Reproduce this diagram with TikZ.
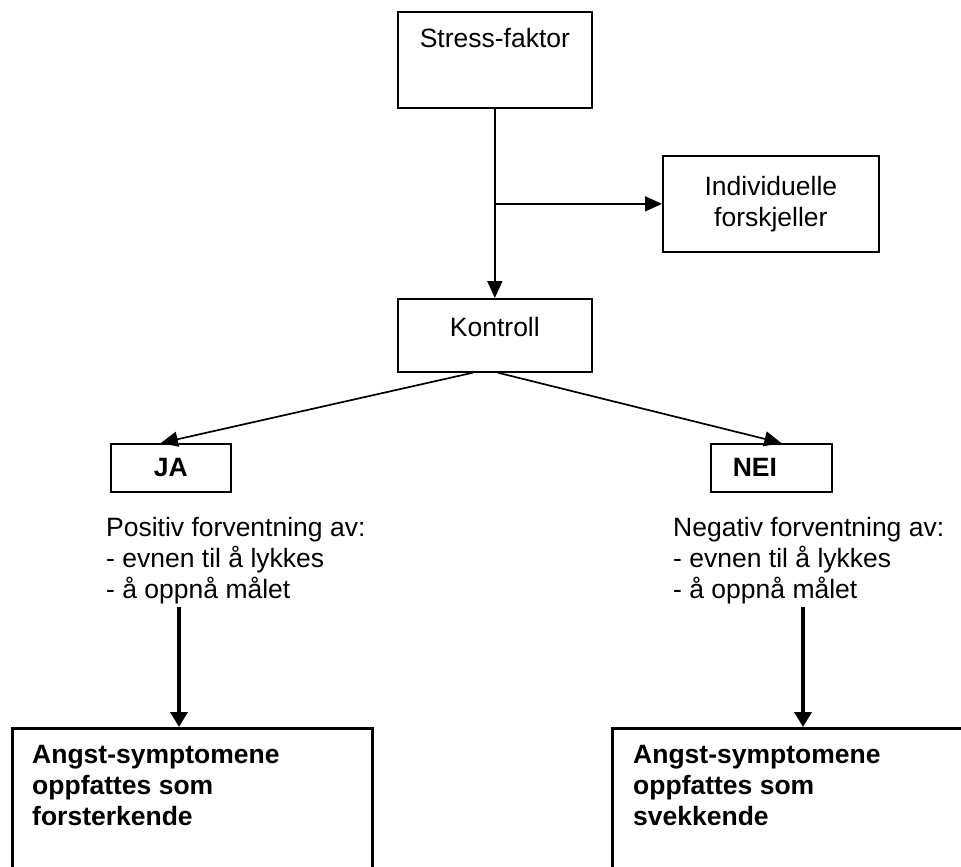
\documentclass[tikz,border=0pt]{standalone}
\usepackage{fontspec}
\setmainfont{Liberation Sans}
\usetikzlibrary{arrows.meta}
\usetikzlibrary{positioning}

\tikzset{
  box/.style={draw, line width=1.7pt, inner sep=0pt},
  bigbox/.style={draw, line width=3pt, inner sep=0pt},
  plain/.style={font=\fontsize{26.5}{31}\selectfont},
  bold/.style={font=\fontsize{26.5}{31}\selectfont\bfseries},
  arr/.style={line width=1.7pt, -{Triangle[length=17pt, width=15pt]}},
  thickarr/.style={line width=3.5pt, -{Triangle[length=15pt, width=17pt]}},
}

\begin{document}
\begin{tikzpicture}[line join=miter, x=1pt, y=-1pt, plain]
\useasboundingbox (0,0) rectangle (961,867);
\clip (0,0) rectangle (961,867);

% top part
\node [box, anchor=north west, minimum width=194pt, text height=36pt, text depth=60pt] (stress) at (397,11) {Stress-faktor};
\node [box, anchor=north west, minimum width=216pt, minimum height=96pt, align=center] (indiv) at (662,155) {Individuelle\\forskjeller};
\node [box, anchor=north west, minimum width=194pt, text height=38pt, text depth=35pt] (kontroll) at (397,298) {Kontroll};

\draw [arr] (stress.south) -- (kontroll.north);
\draw [arr] (stress.south |- indiv.west) -- (indiv.west);

% JA / NEI
\node [box, bold, anchor=north west, minimum width=120pt, minimum height=48pt] (ja) at (110,443) {JA};
\node [box, bold, anchor=north west, minimum height=48pt, inner xsep=22pt, text width=77pt, align=left] (nei) at (710,443) {NEI};

\draw [arr] ([xshift=-22pt]kontroll.south) -- ([xshift=-10pt]ja.north);
\draw [arr] ([xshift=3pt]kontroll.south) -- ([xshift=10pt]nei.north);

\node [anchor=north west, align=left, inner sep=0pt] (pos) at (106,517) {Positiv forventning av:\\- evnen til å lykkes\\- å oppnå målet};
\node [anchor=north west, align=left, inner sep=0pt] (neg) at (673,517) {Negativ forventning av:\\- evnen til å lykkes\\- å oppnå målet};

% bottom boxes, cut off by the page
\node [bigbox, anchor=north west, minimum width=360pt, minimum height=200pt] (forst) at (11,727) {};
\node [bold, anchor=north west, align=left, inner sep=0pt] (forsttxt) at ([xshift=21pt, yshift=-18pt]forst.north west) {Angst-symptomene\\oppfattes som\\forsterkende};
\node [bigbox, anchor=north west, minimum width=400pt, minimum height=200pt] (svekk) at (611,727) {};
\node [bold, anchor=north west, align=left, inner sep=0pt] (svekktxt) at ([xshift=22pt, yshift=-18pt]svekk.north west) {Angst-symptomene\\oppfattes som\\svekkende};

\coordinate (jatail) at (179,607);
\coordinate (neitail) at (803,607);
\draw [thickarr] (jatail) -- (jatail |- forst.north);
\draw [thickarr] (neitail) -- (neitail |- svekk.north);
\end{tikzpicture}
\end{document}
